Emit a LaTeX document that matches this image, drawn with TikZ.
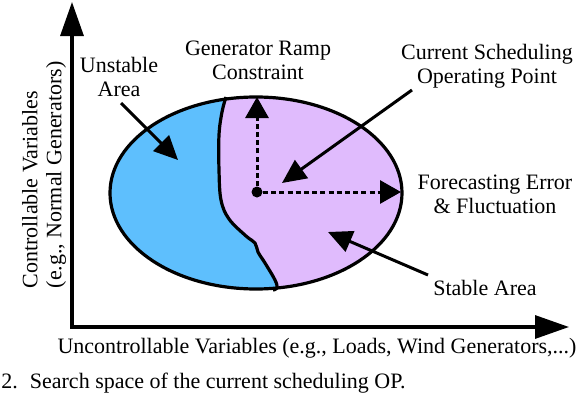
\documentclass[tikz,border=0pt]{standalone}
\usepackage{fontspec}
\setmainfont{Liberation Serif}
\usetikzlibrary{arrows.meta}

\definecolor{unstablecol}{RGB}{94,191,253}
\definecolor{stablecol}{RGB}{224,187,253}

\begin{document}
\begin{tikzpicture}[
  x=0.5pt, y=-0.5pt,
  lbl/.style={align=center, inner sep=0pt, font=\fontsize{11}{12}\selectfont},
  axis/.style={line width=1.6pt, {Triangle[length=17pt,width=11.5pt]}-{Triangle[length=17pt,width=11.5pt]}},
  arr/.style={line width=1.5pt, -{Triangle[length=12pt,width=11pt]}},
  ramp/.style={line width=1.5pt, dash pattern=on 2.5pt off 1.6pt, -{Triangle[length=10.5pt,width=11.5pt]}},
  border/.style={line width=1.6pt}
]
\useasboundingbox (0,0) rectangle (580,396);

% axes
\coordinate (origin) at (72,327);
\coordinate (ytip) at (72,2);
\coordinate (xtip) at (569,327);
\draw[axis] (ytip) -- (origin) -- (xtip);

% search space
\coordinate (c) at (256,193);
\fill[stablecol] (c) ellipse [x radius=146, y radius=96];
\begin{scope}
  \clip (c) ellipse [x radius=146, y radius=96];
  \fill[unstablecol] (100,90) -- (226,90) -- plot[smooth, tension=0.6] coordinates {(226,97) (222,112) (219,135) (219,170) (221,200) (229,219) (246,236) (255,243) (258,252) (265,263) (275,280) (277,288) (273,292)} -- (273,310) -- (100,310) -- cycle;
\end{scope}
\draw[border] plot[smooth, tension=0.6] coordinates {(226,97) (222,112) (219,135) (219,170) (221,200) (229,219) (246,236) (255,243) (258,252) (265,263) (275,280) (277,288) (273,290)};
\draw[border] (c) ellipse [x radius=146, y radius=96];

% operating point
\node[circle, fill, inner sep=0pt, minimum size=5.5pt] (op) at (257,192) {};
\coordinate (ramptip) at (257,97);
\coordinate (fctip) at (401,192);
\draw[ramp] (op) -- (ramptip);
\draw[ramp] (op) -- (fctip);

% labels
\node[lbl] (unstable) at (119,77) {Unstable\\Area};
\node[lbl] (ramp) at (258,60) {Generator Ramp\\Constraint};
\node[lbl] (current) at (487,66) {Current Scheduling\\Operating Point};
\node[lbl] (forecast) at (495,194) {Forecasting Error\\\& Fluctuation};
\node[lbl] (stable) at (485,288) {Stable Area};
\node[lbl, align=left, rotate=90] (ylab) at (44,175) {Controllable Variables\\(e.g., Normal Generators)};
\node[lbl] (xlab) at (317,348) {Uncontrollable Variables (e.g., Loads, Wind Generators,...)};
\node[lbl, anchor=west] (caption) at (1,383) {2.\hspace{6pt}Search space of the current scheduling OP.};

% pointers
\coordinate (unstable-tail) at (121,103);
\coordinate (unstable-tip) at (178,160);
\coordinate (current-tail) at (412,90);
\coordinate (current-tip) at (282,183);
\coordinate (stable-tail) at (428,275);
\coordinate (stable-tip) at (328,232);
\draw[arr] (unstable-tail) -- (unstable-tip);
\draw[arr] (current-tail) -- (current-tip);
\draw[arr] (stable-tail) -- (stable-tip);
\end{tikzpicture}
\end{document}
